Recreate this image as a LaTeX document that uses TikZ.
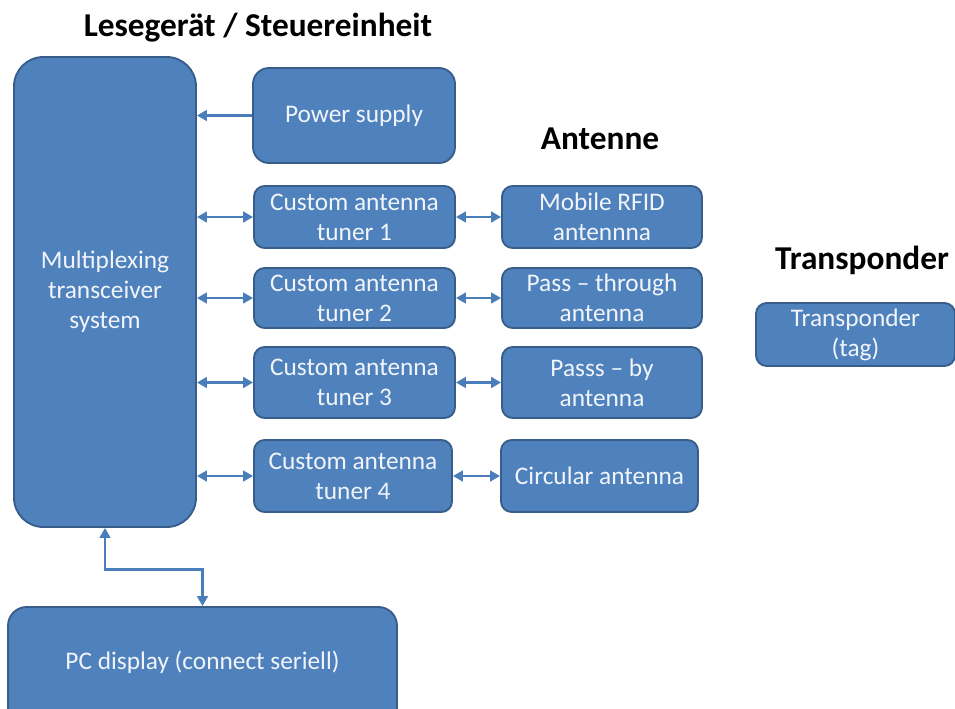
\documentclass[tikz,border=0pt]{standalone}
\usepackage{fontspec}
\setmainfont{Carlito}
\usetikzlibrary{positioning,arrows.meta,calc}
\definecolor{boxblue}{HTML}{4F81BD}
\definecolor{boxedge}{HTML}{385D8A}
\definecolor{linkblue}{HTML}{4A7EBB}
\tikzset{
  block/.style={rectangle, rounded corners=8pt, fill=boxblue, draw=boxedge,
    line width=1.4pt, text=white!92!boxblue, align=center, inner sep=0pt,
    font=\fontsize{19pt}{22.5pt}\selectfont},
  title/.style={font=\fontsize{25pt}{30pt}\selectfont\bfseries, text=black},
  link/.style={draw=linkblue, line width=2.2pt,
    arrows={-Triangle[length=7.5pt,width=8pt]}},
  duplex/.style={link, arrows={Triangle[length=7.5pt,width=8pt]-Triangle[length=7.5pt,width=8pt]}}
}

\begin{document}
\begin{tikzpicture}[x=0.75pt, y=-0.75pt]
  \clip (0,0) rectangle (955,708);
  \useasboundingbox (0,0) rectangle (955,708);
  %% reader / control unit
  \node[block, rounded corners=22pt, minimum width=136.5pt, minimum height=352.5pt] (mux) at (105,292)
       {Multiplexing\\transceiver\\system};
  \node[block, rounded corners=12pt, minimum width=151.5pt, minimum height=71.25pt] (power) at (354,115.5) {Power supply};
  \node[block, minimum width=150.75pt, minimum height=46.5pt] (tun1) at (354.5,217) {Custom antenna\\tuner 1};
  \node[block, minimum width=150.75pt, minimum height=45pt]   (tun2) at (354.5,298) {Custom antenna\\tuner 2};
  \node[block, minimum width=150.75pt, minimum height=53.25pt] (tun3) at (354.5,382.5) {Custom antenna\\tuner 3};
  \node[block, minimum width=148.5pt, minimum height=54pt]    (tun4) at (353,476) {Custom antenna\\tuner 4};
  %% antennas
  \node[block, minimum width=150pt, minimum height=46.5pt]  (ant1) at (602,217) {Mobile RFID\\antennna};
  \node[block, minimum width=150pt, minimum height=45pt]    (ant2) at (602,298) {Pass -- through\\antenna};
  \node[block, minimum width=150pt, minimum height=53.25pt] (ant3) at (602,382.5) {Passs -- by\\antenna};
  \node[block, minimum width=147.75pt, minimum height=54pt] (ant4) at (599.5,476) {Circular antenna};
  %% transponder
  \node[block, minimum width=149.25pt, minimum height=47.25pt] (tag) at (855.5,334.5) {Transponder\\(tag)};
  %% pc
  \node[block, rounded corners=14pt, minimum width=291.75pt, minimum height=90pt] (pc) at (202.5,667) {};
  \node[text=white!92!boxblue, font=\fontsize{19pt}{22.5pt}\selectfont] (pctext) at (202.5,662) {PC display (connect seriell)};
  %%
  \node[title] (hreader) at (258,28) {Lesegerät / Steuereinheit};
  \node[title] (hant)    at (600,139) {Antenne};
  \node[title] (htag)    at (862,260) {Transponder};
  %%
  \draw[link] (power.west) -- (mux.east |- power.west);
  \foreach \i in {1,...,4} {
    \draw[duplex] (mux.east |- tun\i.west) -- (tun\i.west);
    \draw[duplex] (tun\i.east) -- (ant\i.west);
  }
  \draw[duplex] (mux.south) -- ++(0,42) -| (pc.north);
\end{tikzpicture}
\end{document}
